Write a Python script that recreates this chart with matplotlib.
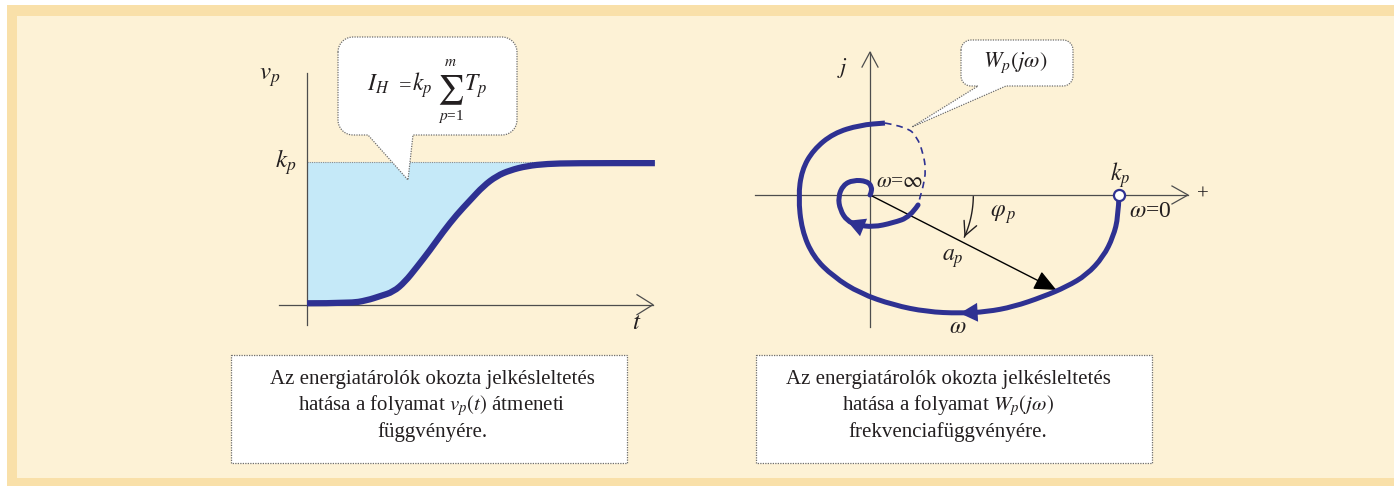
import numpy as np
import matplotlib
matplotlib.use("Agg")
import matplotlib.pyplot as plt
from matplotlib.patches import Rectangle, Polygon, PathPatch
from matplotlib.path import Path

plt.rcParams["mathtext.fontset"] = "stix"
plt.rcParams["font.family"] = ["Liberation Serif", "DejaVu Serif"]

# ---- step response v_p(t): normalised time, output relative to k_p ----
step_t = [0.0, 1.23, 1.71, 2.09, 2.47, 2.80, 3.13, 3.51, 3.89, 4.28,
          4.66, 5.04, 5.42, 5.80, 6.28, 6.85, 7.61, 9.94]
step_v = [0.01, 0.01, 0.03, 0.06, 0.09, 0.16, 0.26, 0.38, 0.51, 0.63,
          0.73, 0.83, 0.90, 0.94, 0.97, 0.985, 0.99, 0.99]
kp_level = 1.0

# ---- frequency locus W_p(jw), real / imaginary parts relative to k_p ----
# low-frequency branch (solid), starting at w = 0
lf_re = [1.000, 0.997, 0.977, 0.937, 0.870, 0.790, 0.696, 0.576, 0.469, 0.361,
         0.228, 0.094, -0.040, -0.147, -0.228, -0.274, -0.288, -0.274, -0.228,
         -0.147, -0.040, 0.060]
lf_im = [0.000, -0.087, -0.167, -0.248, -0.321, -0.368, -0.408, -0.449, -0.469, -0.475,
         -0.469, -0.442, -0.395, -0.328, -0.248, -0.141, -0.007, 0.100, 0.181,
         0.248, 0.281, 0.289]
# middle branch (dashed)
mid_re = [0.060, 0.149, 0.189, 0.213, 0.225, 0.213, 0.201, 0.193]
mid_im = [0.289, 0.273, 0.233, 0.169, 0.100, 0.032, -0.008, -0.040]
# high-frequency branch (solid), ending at w = inf in the origin
hf_re = [0.193, 0.161, 0.092, 0.012, -0.052, -0.092, -0.120, -0.128, -0.108,
         -0.068, -0.012, 0.008, 0.004, 0.0]
hf_im = [-0.040, -0.088, -0.112, -0.129, -0.120, -0.104, -0.060, -0.008, 0.040,
         0.060, 0.056, 0.032, 0.008, 0.0]

# one sample point of the locus: amplitude and phase
a_p = 0.84
phi_p_deg = -27.0

INK = "#231F20"
BLUE = "#2E3192"
AXIS = "#4D4D4D"
FRAME = "#6E6E6E"

W, H = 1394, 486
fig = plt.figure(figsize=(W / 100, H / 100), dpi=100)


def px_axes(x0, y0, x1, y1):
    ax = fig.add_axes([x0 / W, 1 - y1 / H, (x1 - x0) / W, (y1 - y0) / H])
    ax.set_axis_off()
    ax.patch.set_visible(False)
    return ax


def smooth_line(ax, xs, ys, **kw):
    """Draw a smooth quadratic-Bezier curve guided by the given points."""
    p = np.column_stack([xs, ys]).astype(float)
    verts = [p[0]]
    codes = [Path.MOVETO]
    for i in range(1, len(p) - 1):
        verts += [p[i], (p[i] + p[i + 1]) / 2]
        codes += [Path.CURVE3, Path.CURVE3]
    verts.append(p[-1])
    codes.append(Path.LINETO)
    patch = PathPatch(Path(verts, codes), fill=False, **kw)
    ax.add_patch(patch)
    return patch


# ---- page background ----
bg = px_axes(0, 0, W, H)
bg.set_xlim(0, W)
bg.set_ylim(H, 0)
bg.add_patch(Rectangle((7, 5), W - 7, H - 5, fc="#F9E0A9", ec="none"))
bg.add_patch(Rectangle((17, 16), W - 17, 462, fc="#FDF2D6", ec="none"))

# ---- left chart: transient response ----
axL = px_axes(250, 40, 680, 345)
T_PX, V_PX, V0 = 35.0, 143.0, 304.7
axL.set_xlim((250 - 307) / T_PX, (680 - 307) / T_PX)
axL.set_ylim((V0 - 345) / V_PX, (V0 - 40) / V_PX)

axL.fill_between(step_t, step_v, kp_level, color="#C5E9F8", lw=0, zorder=1)
axL.plot([0, 7.3], [kp_level, kp_level], color="#8C8C8C", lw=0.8,
         ls=(0, (1, 1)), zorder=2)
axL.plot([0, 0], [-0.142, 1.62], color=AXIS, lw=0.9, zorder=2)
t_end = 9.886
axL.plot([-0.8, t_end], [0, 0], color=AXIS, lw=0.9, zorder=2)
axL.plot([t_end - 16 / T_PX, t_end, t_end - 16 / T_PX],
         [10 / V_PX, 0, -10 / V_PX], color=AXIS, lw=0.9, zorder=2)
smooth_line(axL, step_t, step_v, color=BLUE, lw=4.5, capstyle="butt",
            joinstyle="round", zorder=3)

axL.text(-1.06, 1.59, r"$v_p$", fontsize=18, color=INK, ha="center", va="center")
axL.text(-0.62, 1.0, r"$k_p$", fontsize=18, color=INK, ha="center", va="center")
axL.text(9.43, -0.13, r"$t$", fontsize=18, color=INK, ha="center", va="center")

# ---- right chart: frequency locus ----
axR = px_axes(740, 30, 1230, 345)
U = 249.0
axR.set_xlim((740 - 870) / U, (1230 - 870) / U)
axR.set_ylim((195 - 345) / U, (195 - 30) / U)

re_end, im_end = 1.277, 0.574
axR.plot([-0.462, re_end], [0, 0], color=AXIS, lw=0.9)
axR.plot([re_end - 16 / U, re_end, re_end - 16 / U], [9 / U, 0, -9 / U],
         color=AXIS, lw=0.9)
axR.plot([0, 0], [-0.530, im_end], color=AXIS, lw=0.9)
axR.plot([-8 / U, 0, 8 / U], [im_end - 15 / U, im_end, im_end - 15 / U],
         color=AXIS, lw=0.9)

# amplitude / phase vector
phi = np.radians(phi_p_deg)
tip = (a_p * np.cos(phi), a_p * np.sin(phi))
axR.annotate("", xy=tip, xytext=(0, 0),
             arrowprops=dict(arrowstyle="-|>,head_length=0.85,head_width=0.38",
                             mutation_scale=16, color="black", lw=1.0,
                             shrinkA=0, shrinkB=0), zorder=3)

# phase angle arc
ang = np.radians(np.linspace(-1, phi_p_deg + 3, 40))
r_arc = 0.415
axR.plot(r_arc * np.cos(ang), r_arc * np.sin(ang), color=INK, lw=1.0)
axR.annotate("", xy=(r_arc * np.cos(ang[-1]), r_arc * np.sin(ang[-1])),
             xytext=(r_arc * np.cos(ang[-4]), r_arc * np.sin(ang[-4])),
             arrowprops=dict(arrowstyle="->,head_length=0.7,head_width=0.35",
                             mutation_scale=14, color=INK, lw=1.0,
                             shrinkA=0, shrinkB=0))

# locus branches
smooth_line(axR, lf_re, lf_im, color=BLUE, lw=3.6, capstyle="butt",
            joinstyle="round", zorder=4)
smooth_line(axR, mid_re, mid_im, color=BLUE, lw=1.2, ls=(0, (4, 3)), zorder=4)
smooth_line(axR, hf_re, hf_im, color=BLUE, lw=3.6, capstyle="round",
            joinstyle="round", zorder=4)


def flow_arrow(re, im, k):
    axR.annotate("", xy=(re[k], im[k]), xytext=(re[k - 1], im[k - 1]),
                 arrowprops=dict(arrowstyle="-|>,head_length=0.75,head_width=0.4",
                                 mutation_scale=17, color=BLUE, lw=0,
                                 shrinkA=0, shrinkB=0), zorder=5)


flow_arrow(lf_re, lf_im, 9)
flow_arrow(hf_re, hf_im, 5)

axR.plot(lf_re[0], lf_im[0], "o", ms=8, mfc="white", mec=BLUE, mew=1.6, zorder=6)

axR.text(1.004, 0.078, r"$k_p$", fontsize=17, color=INK, ha="center", va="center")
axR.text(1.124, -0.068, r"$\omega$=0", fontsize=17, color=INK, ha="center", va="center")
axR.text(0.120, 0.052, r"$\omega$=$\infty$", fontsize=15.5, color=INK, ha="center", va="center")
axR.text(0.534, -0.080, r"$\varphi_{\,p}$", fontsize=17, color=INK, ha="center", va="center")
axR.text(0.333, -0.257, r"$a_p$", fontsize=17, color=INK, ha="center", va="center")
axR.text(0.353, -0.534, r"$\omega$", fontsize=17, color=INK, ha="center", va="center")
axR.text(-0.112, 0.510, r"$j$", fontsize=16, color=INK, ha="center", va="center")
axR.text(1.337, 0.0, "+", fontsize=15, color=INK, ha="center", va="center")

# ---- callouts and captions ----
ov = px_axes(0, 0, W, H)
ov.set_xlim(0, W)
ov.set_ylim(H, 0)


def bubble(x0, y0, x1, y1, r, tail):
    pts = []

    def arc(cx, cy, a0, a1):
        for a in np.radians(np.linspace(a0, a1, 12)):
            pts.append((cx + r * np.cos(a), cy + r * np.sin(a)))

    arc(x0 + r, y0 + r, 180, 270)
    arc(x1 - r, y0 + r, 270, 360)
    arc(x1 - r, y1 - r, 0, 90)
    base_l, tip_x, tip_y, base_r = tail
    pts += [(base_r, y1), (tip_x, tip_y), (base_l, y1)]
    arc(x0 + r, y1 - r, 90, 180)
    ov.add_patch(Polygon(pts, closed=True, fc="white", ec=FRAME, lw=0.9,
                         ls=(0, (1, 1))))


bubble(338, 37, 517, 135, 15, (368, 408, 180, 413))
# I_H = k_p * sum_{p=1}^{m} T_p
ov.text(367, 91, r"$I_H$", fontsize=17, color=INK, ha="left", va="baseline")
ov.text(405, 91, "=", fontsize=16, color=INK, ha="center", va="baseline")
ov.text(412, 91, r"$k_p$", fontsize=17, color=INK, ha="left", va="baseline")
ov.text(450, 90, r"$\sum$", fontsize=21, color=INK, ha="center", va="center")
ov.text(450, 62, r"$m$", fontsize=11, color=INK, ha="center", va="center")
ov.text(451, 116, r"$p$=1", fontsize=11, color=INK, ha="center", va="center")
ov.text(464, 91, r"$T_p$", fontsize=17, color=INK, ha="left", va="baseline")

bubble(961, 40, 1073, 86, 10, (978, 912, 127, 1006))
ov.text(1015, 63, r"$W_p(j\omega)$", fontsize=16, color=INK, ha="center", va="center")

for x0, x1 in [(231, 627), (756, 1152)]:
    ov.add_patch(Rectangle((x0, 355), x1 - x0, 108, fc="white", ec=FRAME,
                           lw=0.9, ls=(0, (1, 1))))

left_lines = ["Az energiatárolók okozta jelkésleltetés",
              r"hatása a folyamat $v_p(t)$ átmeneti",
              "függvényére."]
right_lines = ["Az energiatárolók okozta jelkésleltetés",
               r"hatása a folyamat $W_p(j\omega)$",
               "frekvenciafüggvényére."]
for cx, lines in [(432, left_lines), (948, right_lines)]:
    for y, s in zip([379, 406, 432], lines):
        ov.text(cx, y, s, fontsize=15, color=INK, ha="center", va="center")

fig.savefig("out.png", dpi=100)
